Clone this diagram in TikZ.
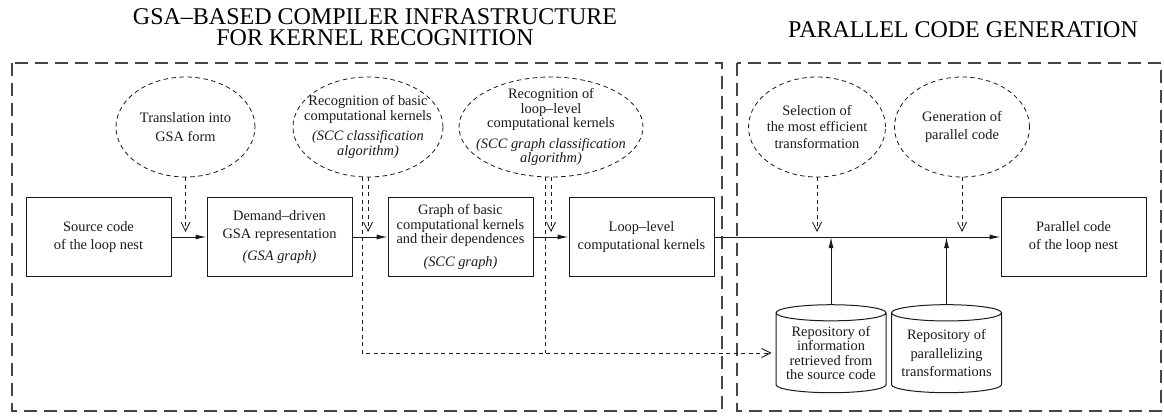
\documentclass[tikz,border=0pt]{standalone}
\usepackage{fontspec}
\setmainfont{Liberation Serif}
\usetikzlibrary{arrows.meta,shapes.geometric}
\definecolor{gkink}{HTML}{1A1A1A}
\definecolor{gkzone}{HTML}{454545}

\begin{document}
\begin{tikzpicture}[x=1pt,y=-1pt,
  txt/.style={font=\fontsize{14.4}{14.5}\selectfont,align=center,text=gkink},
  stage/.style={txt,draw=gkink,line width=1pt,minimum width=145pt,minimum height=79pt,inner sep=0pt},
  task/.style={txt,ellipse,draw=gkink,line width=0.8pt,dash pattern=on 4.5pt off 3.5pt,minimum height=100pt,inner xsep=-30pt,inner ysep=-15pt},
  store/.style={txt,cylinder,shape border rotate=90,aspect=0.18,draw=gkink,line width=1pt,minimum width=110pt,minimum height=88pt,inner sep=0pt},
  flow/.style={gkink,line width=1pt,-{Latex[length=11pt,width=5pt]}},
  hint/.style={gkink,line width=0.8pt,dash pattern=on 4pt off 3.5pt},
  tip/.style={-{Straight Barb[length=9pt,width=9pt]}},
  zone/.style={gkzone,line width=1.2pt,dash pattern=on 13pt off 7pt},
  head/.style={font=\fontsize{24}{20.5}\selectfont,align=center,inner sep=0pt}]
\useasboundingbox (0,0) rectangle (1164,417);
\node[head] (t1) at (375,27) {GSA–BASED COMPILER INFRASTRUCTURE\\FOR KERNEL RECOGNITION};
\node[head] (t2) at (963,30) {PARALLEL CODE GENERATION};
\draw[zone] (12,63) rectangle (722,411);
\draw[zone] (737,63) rectangle (1161,411);

\node[stage] (b1) at (98.5,237) {Source code\\[4pt]of the loop nest};
\node[stage] (b2) at (279.5,237) {Demand–driven\\[4pt]GSA representation\\[7pt]\textit{(GSA graph)}};
\node[stage] (b3) at (460.5,237) {Graph of basic\\computational kernels\\and their dependences\\[8pt]\textit{(SCC graph)}};
\node[stage] (b4) at (641.5,237) {Loop–level\\[3pt]computational kernels};
\node[stage] (b5) at (1073.5,237) {Parallel code\\[4pt]of the loop nest};

\node[task,minimum width=139pt] (e1) at (185.5,127) {Translation into\\[4pt]GSA form};
\node[task,minimum width=150pt] (e2) at (368,127) {Recognition of basic\\computational kernels\\[6pt]\textit{(SCC classification}\\\textit{algorithm)}};
\node[task,minimum width=184pt] (e3) at (551,127) {Recognition of\\loop–level\\computational kernels\\[6pt]\textit{(SCC graph classification}\\\textit{algorithm)}};
\node[task,minimum width=137pt] (e4) at (817,127) {Selection of\\[2pt]the most efficient\\[2pt]transformation};
\node[task,minimum width=135pt] (e5) at (962,127) {Generation of\\[4pt]parallel code};

\node[store] (c1) at (831,353) {Repository of\\information\\retrieved from\\the source code};
\node[store] (c2) at (946.5,353) {Repository of\\[4pt]parallelizing\\[4pt]transformations};

\foreach \a/\b in {b1/b2,b2/b3,b3/b4,b4/b5}{\draw[flow] (\a) -- (\b);}
\foreach \e in {e1,e2,e3,e4,e5}{\draw[hint,tip,shorten >=5pt] (\e.south) -- (\e.south |- b1.east);}
\draw[hint,tip,shorten >=4pt] ([xshift=-6pt]e2.south) |- (c1.west);
\draw[hint] ([xshift=-6pt]e3.south) -- ([xshift=-6pt]e3.south |- c1.west);
\foreach \c in {c1,c2}{\draw[flow] (\c.north) -- (\c.north |- b5.west);}
\end{tikzpicture}
\end{document}
